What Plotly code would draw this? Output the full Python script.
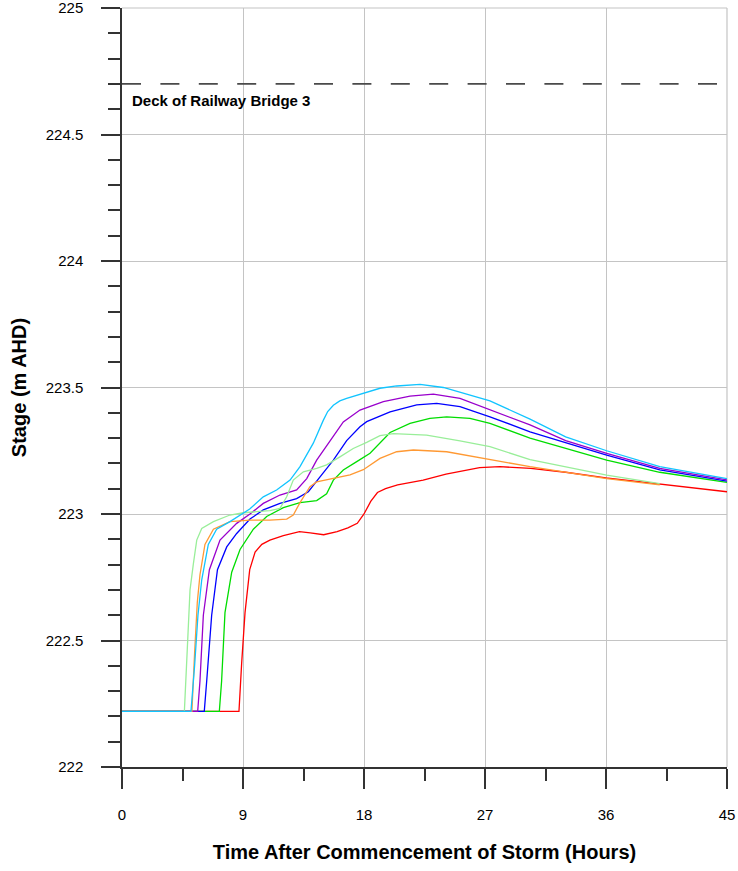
import plotly.graph_objects as go

# stage hydrographs (hours, m AHD)
red_t = [0, 8.7, 8.9, 9.15, 9.5, 9.9, 10.4, 11.0, 12.0, 13.2, 14.0, 15.0, 16.0, 16.8, 17.5, 18.0, 18.5, 19.0,
         19.6, 20.5, 22.4, 24.1, 26.6, 28.1, 30.4, 33.0, 36.0, 40.0, 45.0]
red_y = [222.22, 222.22, 222.41, 222.61, 222.78, 222.85, 222.88, 222.897, 222.915, 222.93, 222.925, 222.918,
         222.93, 222.945, 222.963, 223.0, 223.05, 223.085, 223.10, 223.115, 223.134, 223.158, 223.183, 223.187,
         223.18, 223.165, 223.143, 223.118, 223.088]

green_t = [0, 7.24, 7.41, 7.66, 8.16, 8.78, 9.77, 10.76, 12.0, 13.24, 14.48, 15.22, 15.72, 16.46, 17.46, 18.45,
           19.94, 21.42, 22.9, 24.15, 25.88, 27.37, 30.35, 33.0, 36.05, 40.0, 45.0]
green_y = [222.22, 222.22, 222.34, 222.61, 222.77, 222.86, 222.94, 222.99, 223.025, 223.045, 223.053, 223.08,
           223.134, 223.174, 223.207, 223.24, 223.322, 223.358, 223.378, 223.384, 223.378, 223.358, 223.3,
           223.259, 223.213, 223.165, 223.125]

blue_t = [0, 6.12, 6.3, 6.67, 7.1, 7.79, 8.53, 9.52, 10.51, 11.75, 12.99, 13.86, 14.73, 15.72, 16.71, 17.7,
          18.2, 19.94, 21.92, 23.41, 25.14, 27.37, 30.35, 33.0, 36.05, 40.0, 45.0]
blue_y = [222.22, 222.22, 222.34, 222.6, 222.78, 222.87, 222.923, 222.98, 223.016, 223.042, 223.061, 223.088,
          223.147, 223.213, 223.29, 223.345, 223.365, 223.404, 223.431, 223.437, 223.424, 223.384, 223.325,
          223.281, 223.233, 223.174, 223.13]

purple_t = [0, 5.63, 5.8, 6.05, 6.5, 7.29, 8.53, 9.52, 10.51, 11.75, 12.99, 13.74, 14.48, 15.47, 16.46, 17.7,
            19.44, 21.42, 23.16, 25.14, 27.37, 30.35, 33.0, 36.05, 40.0, 45.0]
purple_y = [222.22, 222.22, 222.34, 222.6, 222.78, 222.897, 222.963, 223.0, 223.042, 223.075, 223.095, 223.14,
            223.213, 223.29, 223.364, 223.411, 223.444, 223.466, 223.474, 223.457, 223.413, 223.352, 223.29,
            223.24, 223.18, 223.135]

lgreen_t = [0, 4.64, 4.86, 5.06, 5.3, 5.56, 5.93, 6.8, 8.03, 9.02, 10.0, 11.0, 11.75, 12.25, 12.74, 13.49,
            14.48, 15.22, 16.21, 17.2, 18.2, 19.19, 20.18, 22.66, 25.14, 27.37, 30.35, 36.05, 40.0]
lgreen_y = [222.22, 222.22, 222.47, 222.7, 222.8, 222.897, 222.943, 222.97, 222.996, 223.005, 223.009, 223.013,
            223.022, 223.068, 223.134, 223.167, 223.18, 223.194, 223.226, 223.259, 223.283, 223.31, 223.318,
            223.312, 223.289, 223.266, 223.215, 223.154, 223.12]

orange_t = [0, 5.2, 5.4, 5.6, 5.8, 6.17, 6.8, 8.03, 9.5, 11.0, 12.25, 12.74, 13.24, 13.98, 14.48, 15.72, 16.96,
            17.95, 19.19, 20.43, 21.67, 24.15, 26.6, 30.35, 36.05, 40.0]
orange_y = [222.22, 222.22, 222.45, 222.65, 222.76, 222.88, 222.94, 222.97, 222.976, 222.976, 222.98, 222.996,
            223.045, 223.108, 223.127, 223.14, 223.155, 223.175, 223.22, 223.246, 223.253, 223.246, 223.222,
            223.187, 223.14, 223.115]

cyan_t = [0, 5.13, 5.4, 5.65, 5.93, 6.42, 7.04, 8.03, 9.5, 10.51, 11.5, 12.5, 13.24, 14.23, 14.97, 15.3, 15.72,
          16.2, 16.71, 17.95, 19.19, 20.43, 22.17, 23.9, 25.88, 27.37, 30.35, 33.0, 36.05, 40.0, 45.0]
cyan_y = [222.22, 222.22, 222.4, 222.6, 222.74, 222.88, 222.94, 222.97, 223.02, 223.068, 223.095, 223.134,
          223.187, 223.28, 223.37, 223.405, 223.43, 223.447, 223.457, 223.476, 223.497, 223.506, 223.512, 223.5,
          223.47, 223.447, 223.375, 223.305, 223.25, 223.187, 223.14]

deck_level = 224.7
deck_label = "Deck of Railway Bridge 3"

series = [
    (red_t, red_y, "#FF0000"),
    (green_t, green_y, "#00DD00"),
    (blue_t, blue_y, "#0000FF"),
    (purple_t, purple_y, "#9900CC"),
    (lgreen_t, lgreen_y, "#99EE99"),
    (orange_t, orange_y, "#FF9933"),
    (cyan_t, cyan_y, "#11C4FF"),
]

font_name = "Liberation Sans"
grid_col = "#C4C4C4"

fig = go.Figure()
for t, y, c in series:
    fig.add_trace(go.Scatter(x=t, y=y, mode="lines", line=dict(color=c, width=1.3),
                             showlegend=False, hoverinfo="skip", cliponaxis=False))

# top and right frame drawn like grid lines
fig.add_shape(type="line", xref="paper", yref="paper", x0=0, x1=1, y0=1, y1=1, layer="below",
              line=dict(color=grid_col, width=1.2))
fig.add_shape(type="line", xref="paper", yref="paper", x0=1, x1=1, y0=0, y1=1, layer="below",
              line=dict(color=grid_col, width=1.2))

# deck level
fig.add_shape(type="line", xref="x", yref="y", x0=0, x1=45, y0=deck_level, y1=deck_level,
              line=dict(color="#4A4A4A", width=1.8, dash="19px,19.4px"))
fig.add_annotation(x=0, y=deck_level, xref="x", yref="y", text="<b>" + deck_label + "</b>",
                   showarrow=False, xanchor="left", yanchor="middle", xshift=8, yshift=-17,
                   font=dict(family=font_name, size=15, color="black"))

fig.update_xaxes(range=[0, 45], dtick=9, tick0=0, showgrid=True, gridcolor=grid_col, gridwidth=1.2,
                 zeroline=False, showline=True, linecolor="#333333", linewidth=1.5, automargin=False,
                 ticks="outside", ticklen=20, tickwidth=1.5, tickcolor="#333333",
                 ticklabelstandoff=13, ticklabeloverflow="allow",
                 minor=dict(dtick=4.5, tick0=0, ticks="outside", ticklen=12, tickwidth=1.5,
                            tickcolor="#333333", showgrid=False),
                 tickfont=dict(family=font_name, size=15, color="black"),
                 title=dict(text="<b>Time After Commencement of Storm (Hours)</b>",
                            font=dict(family=font_name, size=20, color="black"), standoff=23))

fig.update_yaxes(range=[222, 225], dtick=0.5, tick0=222, showgrid=True, gridcolor=grid_col, gridwidth=1.2,
                 zeroline=False, showline=True, linecolor="#333333", linewidth=1.5, automargin=False,
                 ticks="outside", ticklen=19, tickwidth=1.5, tickcolor="#333333",
                 ticklabelstandoff=15, ticklabeloverflow="allow",
                 minor=dict(dtick=0.1, tick0=222, ticks="outside", ticklen=12, tickwidth=1.5,
                            tickcolor="#333333", showgrid=False),
                 tickfont=dict(family=font_name, size=15, color="black"),
                 title=dict(text="<b>Stage (m AHD)</b>",
                            font=dict(family=font_name, size=20, color="black"), standoff=14))

fig.update_layout(width=738, height=871, margin=dict(l=122, r=11, t=8, b=104),
                  plot_bgcolor="white", paper_bgcolor="white")

# the page's default body margin would shift the chart by 8px
fig.write_html("out.html", config={"displayModeBar": False},
               post_script="document.body.style.margin='0';")
